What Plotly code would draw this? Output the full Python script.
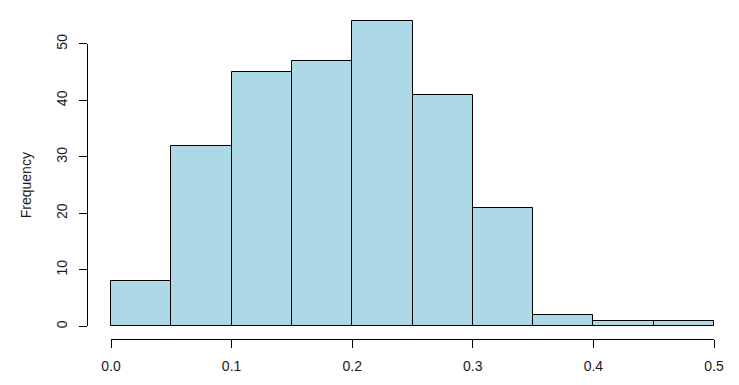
import plotly.graph_objects as go

bin_edges = [0.0, 0.05, 0.10, 0.15, 0.20, 0.25, 0.30, 0.35, 0.40, 0.45, 0.50]
counts = [8, 32, 45, 47, 54, 41, 21, 2, 1, 1]
x_ticks = [0.0, 0.1, 0.2, 0.3, 0.4, 0.5]
x_tick_labels = ["0.0", "0.1", "0.2", "0.3", "0.4", "0.5"]
y_ticks = [0, 10, 20, 30, 40, 50]

centers = [(bin_edges[i] + bin_edges[i + 1]) / 2 for i in range(len(counts))]
widths = [bin_edges[i + 1] - bin_edges[i] for i in range(len(counts))]

W, H = 739, 385
ml, mr, mt, mb = 87, 25, 0, 46
pw = W - ml - mr
ph = H - mt - mb
x_left_px = 111
px_x = (pw - (x_left_px - ml)) / 0.5
px_y = 5.82
x0 = -(x_left_px - ml) / px_x
y0 = -13 / px_y
y1 = y0 + ph / px_y

font = dict(family="Liberation Sans, Arial, sans-serif", size=14, color="#1a1a1a")

fig = go.Figure()
fig.add_trace(go.Scatter(x=[0], y=[0], xaxis="x2", yaxis="y2", mode="markers",
                         marker=dict(opacity=0), hoverinfo="skip", showlegend=False))
fig.add_trace(go.Bar(
    x=centers, y=counts, width=widths,
    marker=dict(color="#ADD8E6", line=dict(color="black", width=1)),
    xaxis="x", yaxis="y", hoverinfo="skip",
))

xd0 = (x_left_px - ml) / pw
yd0 = 13 / ph
yd1 = (13 + 50 * px_y) / ph

fig.update_layout(
    width=W, height=H,
    margin=dict(l=ml, r=mr, t=mt, b=mb, pad=0),
    paper_bgcolor="white", plot_bgcolor="rgba(0,0,0,0)",
    showlegend=False, font=font,
    bargap=0,
    xaxis=dict(range=[x0, 0.5], domain=[0, 1], visible=False, fixedrange=True),
    yaxis=dict(range=[y0, y1], domain=[0, 1], visible=False, fixedrange=True),
    xaxis2=dict(range=[0, 0.5], domain=[xd0, 1], anchor="free", position=0,
                showline=True, linecolor="black", linewidth=1,
                ticks="outside", ticklen=8, tickwidth=1, tickcolor="black",
                tickvals=x_ticks, ticktext=x_tick_labels, showgrid=False,
                zeroline=False, tickfont=font, ticklabelstandoff=6),
    yaxis2=dict(range=[0, 50], domain=[yd0, yd1], anchor="free", position=0,
                showline=True, linecolor="black", linewidth=1,
                ticks="outside", ticklen=8, tickwidth=1, tickcolor="black",
                tickvals=y_ticks, tickangle=-90, showgrid=False, zeroline=False,
                tickfont=font, ticklabelstandoff=6,
                title=dict(text="Frequency", font=font, standoff=18)),
)

fig.write_html("out.html")
